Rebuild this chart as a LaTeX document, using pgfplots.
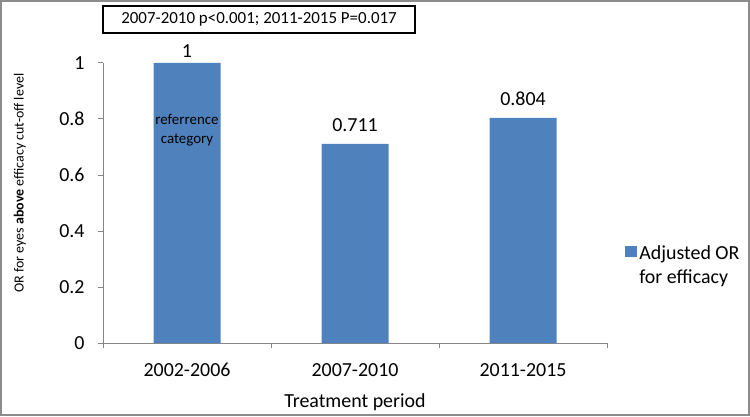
\documentclass[border=0pt]{standalone}
\usepackage{pgfplots}
\pgfplotsset{compat=1.18}
\usepackage{fontspec}
\setmainfont{Carlito}
\definecolor{barblue}{HTML}{4F81BD}
\definecolor{axisgray}{HTML}{868686}
\definecolor{framegray}{HTML}{8C8C8C}
\begin{document}
\begin{tikzpicture}[x=1bp,y=1bp]
\useasboundingbox (0,0) rectangle (750,416);
\draw[framegray, line width=2bp] (1,1) rectangle (749,415);
\begin{axis}[
  at={(103bp,73bp)}, anchor=south west,
  scale only axis, width=504bp, height=280bp,
  xmin=-0.5, xmax=2.5, ymin=0, ymax=1,
  axis x line*=bottom, axis y line*=left,
  axis line style={axisgray, line width=1bp},
  xtick={0,1,2}, xticklabels={2002-2006,2007-2010,2011-2015},
  x tick style={draw=none},
  extra x ticks={-0.5,0.5,1.5,2.5}, extra x tick labels={},
  extra x tick style={x tick style={draw=axisgray, line width=1bp}},
  ytick={0,0.2,0.4,0.6,0.8,1},
  y tick style={axisgray, line width=1bp},
  major tick length=5bp, tick align=outside,
  tick label style={font=\fontsize{20}{24}\selectfont},
  xticklabel style={yshift=-12bp},
  yticklabel style={xshift=-10bp},
  /pgf/number format/assume math mode=true,
  ylabel={OR for eyes \textbf{above} efficacy cut-off level},
  ylabel style={font=\fontsize{14}{17}\selectfont, at={(axis description cs:-0.165,0.571)}, anchor=center},
  xlabel={Treatment period},
  xlabel style={font=\fontsize{20}{24}\selectfont, at={(axis description cs:0.5,-0.21)}, anchor=center},
  legend style={at={(axis description cs:1.03,0.276)}, anchor=west, draw=none, fill=none,
    font=\fontsize{20}{24}\selectfont, cells={align=left}},
  clip=false,
]
\addplot[ybar, bar width=67bp, fill=barblue, draw=none,
  nodes near coords, point meta=explicit symbolic,
  visualization depends on={y \as \rawy},
  every node near coord/.append style={font=\fontsize{20}{24}\selectfont, black, yshift={9-7*(\rawy>0.9)}},
  legend image code/.code={\fill[barblue] (0bp,9bp) rectangle (12bp,20bp);}]
  coordinates {(0,1) [1] (1,0.711) [0.711] (2,0.804) [0.804]};
\addlegendentry{Adjusted OR\\for efficacy}
\node[align=center, font=\fontsize{15}{19}\selectfont] at (axis cs:0,0.76) {referrence\\category};
\end{axis}
\node[draw=black, line width=1.5bp, minimum width=312bp, minimum height=27bp, inner sep=0pt,
  font=\fontsize{17}{20}\selectfont] at (259bp,396.5bp) {2007-2010 p<0.001; 2011-2015 P=0.017};
\end{tikzpicture}
\end{document}
